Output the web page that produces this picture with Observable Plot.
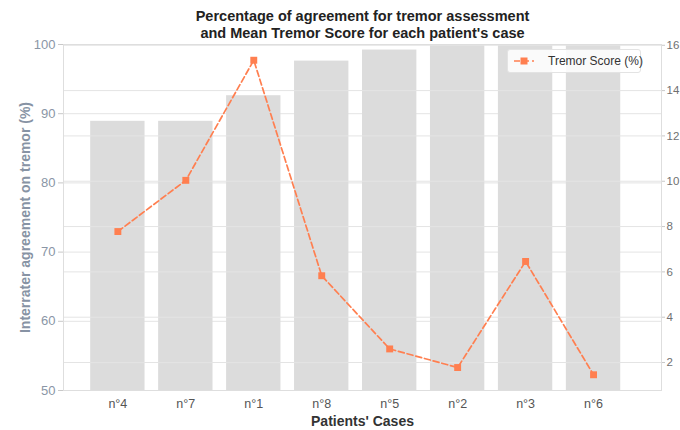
<!DOCTYPE html>
<html>
<head>
<meta charset="utf-8">
<script src="https://cdn.jsdelivr.net/npm/d3@7"></script>
<script src="https://cdn.jsdelivr.net/npm/@observablehq/plot@0.6"></script>
<style>
  html, body { margin: 0; padding: 0; background: #fff; }
  #wrap { position: relative; width: 680px; height: 430px; font-family: "Liberation Sans", Arial, sans-serif; }
  #legend { position: absolute; left: 507px; top: 49px; width: 134px; height: 24px; box-sizing: border-box;
    border: 1px solid #e3e3e3; border-radius: 3px; background: rgba(255,255,255,0.85);
    display: flex; align-items: center; font-size: 12px; color: #333; white-space: nowrap; }
  #legend svg { margin-left: 5px; margin-right: 13px; flex: none; }
</style>
</head>
<body>
<div id="wrap"></div>
<script>
const cases = ["n°4", "n°7", "n°1", "n°8", "n°5", "n°2", "n°3", "n°6"];
const agreement = [88.9, 88.9, 92.6, 97.6, 99.2, 100, 100, 100];
const tremorScore = [7.78, 10.04, 15.34, 5.83, 2.60, 1.78, 6.46, 1.46];
const leftTicks = [50, 60, 70, 80, 90, 100];
const rightTicks = [2, 4, 6, 8, 10, 12, 14, 16];
const leftDomain = [50, 100];
const rightDomain = [0.766, 16.034];
const titleLines = ["Percentage of agreement for tremor assessment", "and Mean Tremor Score for each patient's case"];
const yLabel = "Interrater agreement on tremor (%)";
const xLabel = "Patients' Cases";
const seriesName = "Tremor Score (%)";

const lineColor = "#ff7f50";
const barColor = "#dcdcdc";
const gridColor = "#e4e4e4";

const toLeft = v => leftDomain[0] + (v - rightDomain[0]) / (rightDomain[1] - rightDomain[0]) * (leftDomain[1] - leftDomain[0]);
const fromLeft = v => rightDomain[0] + (v - leftDomain[0]) / (leftDomain[1] - leftDomain[0]) * (rightDomain[1] - rightDomain[0]);

const rows = cases.map((c, i) => ({case: c, agreement: agreement[i], score: tremorScore[i]}));

const chart = Plot.plot({
  width: 680,
  height: 430,
  marginTop: 44,
  marginBottom: 40,
  marginLeft: 63,
  marginRight: 19,
  style: {fontFamily: "'Liberation Sans', Arial, sans-serif", fontSize: "12.5px", background: "white", overflow: "visible"},
  x: {type: "band", domain: cases, paddingInner: 0.2, paddingOuter: 0.5, align: 0.4, round: false, label: null},
  y: {domain: leftDomain, label: null},
  marks: [
    Plot.gridY(leftTicks, {stroke: gridColor, strokeOpacity: 1}),
    Plot.barY(rows, {x: "case", y1: leftDomain[0], y2: "agreement", fill: barColor}),
    Plot.gridY(rightTicks.map(toLeft), {stroke: gridColor, strokeOpacity: 1}),
    Plot.frame({stroke: "#dedede"}),
    Plot.axisY(leftTicks, {anchor: "left", tickSize: 5, tickPadding: 3, stroke: "#c8c8c8", fill: "#8a96a6", fontSize: 13, label: null}),
    Plot.axisY(rightTicks.map(toLeft), {anchor: "right", tickSize: 3, tickPadding: 2, stroke: "#c8c8c8", fill: "#707070", fontSize: 11.5, label: null,
      tickFormat: v => String(Math.round(fromLeft(v)))}),
    Plot.axisX({anchor: "bottom", tickSize: 0, tickPadding: 9, fill: "#555", fontSize: 12.5, label: null}),
    Plot.lineY(rows, {x: "case", y: d => toLeft(d.score), stroke: lineColor, strokeWidth: 1.7, strokeDasharray: "6,3"}),
    Plot.dot(rows, {x: "case", y: d => toLeft(d.score), symbol: "square", r: 3.9, fill: lineColor, stroke: "none"}),
    Plot.text([titleLines[0]], {frameAnchor: "top", dy: -28, lineAnchor: "middle", fontWeight: "bold", fontSize: 14.5, fill: "#222"}),
    Plot.text([titleLines[1]], {frameAnchor: "top", dy: -11, lineAnchor: "middle", fontWeight: "bold", fontSize: 14.5, fill: "#222"}),
    Plot.text([yLabel], {frameAnchor: "left", dx: -38, rotate: -90, textAnchor: "middle", lineAnchor: "middle", fontWeight: "bold", fontSize: 14, fill: "#8793a4"}),
    Plot.text([xLabel], {frameAnchor: "bottom", dy: 31, lineAnchor: "middle", fontWeight: "bold", fontSize: 14, fill: "#333"})
  ]
});

const wrap = document.getElementById("wrap");
wrap.appendChild(chart);

const legend = document.createElement("div");
legend.id = "legend";
legend.innerHTML = `<svg width="22" height="10"><line x1="1" y1="5" x2="21" y2="5" stroke="${lineColor}" stroke-width="1.7" stroke-dasharray="6,3"/><rect x="7.5" y="1.5" width="7" height="7" fill="${lineColor}"/></svg><span>${seriesName}</span>`;
wrap.appendChild(legend);
</script>
</body>
</html>
